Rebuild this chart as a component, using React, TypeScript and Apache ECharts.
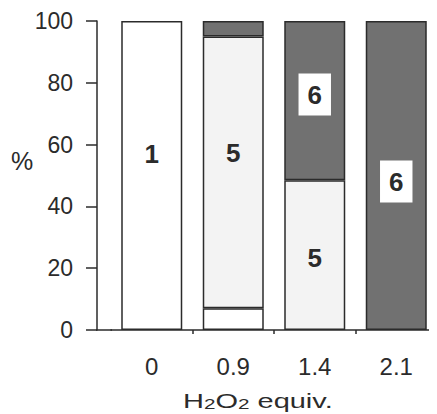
import React, { useEffect, useRef } from "react";
import * as echarts from "echarts";

const categories = ["0", "0.9", "1.4", "2.1"];
const yTicks = [0, 20, 40, 60, 80, 100];
const compound1 = [100, 7, "-", "-"];
const compound5 = ["-", 88, 48.5, "-"];
const compound6 = ["-", 5, 51.5, 100];

const FONT = "Liberation Sans";
const INK = "#2b2b2b";

export default function App() {
  const ref = useRef<HTMLDivElement>(null);
  useEffect(() => {
    if (!ref.current) return;
    const chart = echarts.init(ref.current, undefined, { renderer: "svg" });

    const labelStyle = (show: boolean, offset: number[], boxed: boolean, text: string) =>
      show
        ? {
            show: true,
            position: "inside",
            offset,
            formatter: text,
            fontFamily: FONT,
            fontSize: 26,
            fontWeight: "bold",
            color: INK,
            ...(boxed ? { backgroundColor: "#ffffff", padding: [8, 9, 8, 9] } : {}),
          }
        : { show: false };

    const item = (v: any, lbl: any) => ({ value: v, label: lbl });

    const border = { borderColor: INK, borderWidth: 1.5 };

    chart.setOption({
      animation: false,
      grid: { left: 111, right: 0, top: 21, bottom: 84, containLabel: false },
      xAxis: {
        type: "category",
        data: categories,
        axisLine: { show: true, lineStyle: { color: INK, width: 1.5 } },
        axisTick: {
          show: true,
          length: 4,
          inside: false,
          interval: (i: number) => i > 0,
          lineStyle: { color: INK, width: 1.5 },
        },
        axisLabel: { fontFamily: FONT, fontSize: 24, color: INK, margin: 24 },
      },
      yAxis: {
        type: "value",
        min: 0,
        max: 100,
        interval: 20,
        offset: 14,
        splitLine: { show: false },
        axisLine: { show: true, lineStyle: { color: INK, width: 1.5 } },
        axisTick: { show: true, length: 11, lineStyle: { color: INK, width: 1.5 } },
        axisLabel: {
          fontFamily: FONT,
          fontSize: 23,
          color: INK,
          margin: 24,
          formatter: (v: number) => (yTicks.includes(v) ? String(v) : ""),
        },
      },
      graphic: [
        {
          type: "line",
          shape: { x1: 96, y1: 330, x2: 112, y2: 330 },
          style: { stroke: INK, lineWidth: 1.5 },
        },
        {
          type: "text",
          x: 11,
          y: 148,
          style: { text: "%", fontFamily: FONT, fontSize: 25, fill: INK, verticalAlign: "top" },
        },
        {
          type: "text",
          x: 183,
          y: 389,
          scaleX: 1.38,
          style: {
            text: "H{sub|2}O{sub|2} equiv.",
            fontFamily: FONT,
            fontSize: 21,
            fill: INK,
            verticalAlign: "top",
            align: "left",
            rich: {
              sub: { fontFamily: FONT, fontSize: 15, fill: INK, verticalAlign: "bottom", padding: [8, 0, 0, 0] },
            },
          },
        },
      ],
      series: [
        {
          name: "1",
          type: "bar",
          stack: "total",
          barWidth: 61,
          itemStyle: { color: "#ffffff", ...border },
          data: compound1.map((v, i) => item(v, labelStyle(i === 0, [0, -22], false, "1"))),
        },
        {
          name: "5",
          type: "bar",
          stack: "total",
          barWidth: 61,
          itemStyle: { color: "#f3f3f3", ...border },
          data: compound5.map((v, i) =>
            item(v, labelStyle(i === 1 || i === 2, i === 1 ? [0, -19] : [0, 3], false, "5"))
          ),
        },
        {
          name: "6",
          type: "bar",
          stack: "total",
          barWidth: 61,
          itemStyle: { color: "#717171", ...border },
          data: compound6.map((v, i) =>
            item(v, labelStyle(i === 2 || i === 3, i === 2 ? [0, -6] : [0, 6], true, "6"))
          ),
        },
      ],
    });
    return () => chart.dispose();
  }, []);
  return <div ref={ref} style={{ width: 437, height: 414, margin: "-8px 0 0 -8px" }} />;
}
